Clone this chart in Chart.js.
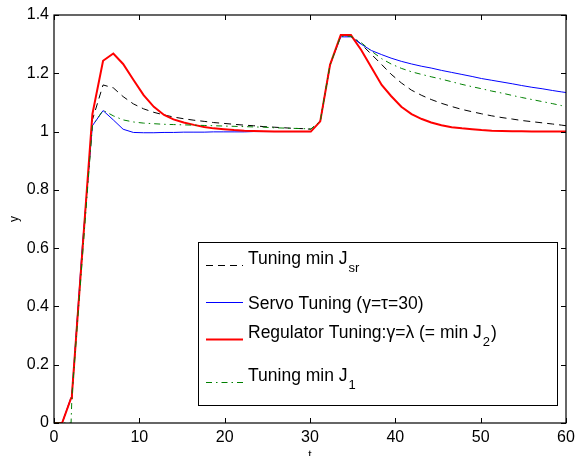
<!DOCTYPE html>
<html>
<head>
<meta charset="utf-8">
<script src="https://cdn.jsdelivr.net/npm/chart.js@4/dist/chart.umd.min.js"></script>
<style>
    html, body { margin: 0; padding: 0; background: #fff; }
    #wrap { width: 575px; height: 456px; }
</style>
</head>
<body>
<div id="wrap"><canvas id="chart" width="575" height="456"></canvas></div>
<script>
// Sample times (t) shared by all four responses
const timeSteps = [0, 0.95, 2.0, 2.1, 3.3, 4.5, 5.75, 6.95, 8.1, 9.3, 10.5, 11.7,
    12.9, 14.0, 15.2, 16.4, 17.6, 18.7, 19.9, 21.1, 22.3, 23.4, 24.6, 25.8,
    27.0, 28.1, 29.3, 30.1, 31.2, 32.35, 33.6, 34.8, 36.0, 37.2, 38.4, 39.5,
    40.7, 41.9, 43.1, 44.2, 45.4, 46.6, 47.8, 49.0, 50.1, 51.3, 52.5, 53.7,
    54.8, 56.0, 57.2, 58.4, 59.5, 60];

// Tuning min Jsr (black dashed)
const jsrValues = [0, 0, 0.085, 0.096, 0.58, 1.04, 1.16, 1.15, 1.12, 1.095, 1.078, 1.066,
    1.057, 1.05, 1.044, 1.039, 1.035, 1.031, 1.028, 1.025, 1.022, 1.02, 1.017, 1.015,
    1.013, 1.011, 1.01, 1.008, 1.035, 1.229, 1.329, 1.329, 1.3, 1.265, 1.23, 1.197,
    1.167, 1.142, 1.124, 1.11, 1.097, 1.086, 1.076, 1.068, 1.061, 1.054, 1.048, 1.043,
    1.038, 1.034, 1.03, 1.026, 1.022, 1.02];

// Servo tuning (blue)
const servoValues = [0, 0, 0.088, 0.1, 0.6, 1.02, 1.072, 1.04, 1.008, 0.997, 0.996, 0.996,
    0.997, 0.997, 0.998, 0.998, 0.998, 0.999, 0.999, 0.999, 0.999, 1.0, 1.0, 1.0,
    1.0, 1.0, 1.0, 1.0, 1.035, 1.229, 1.325, 1.325, 1.3, 1.278, 1.264, 1.252,
    1.241, 1.232, 1.224, 1.218, 1.21, 1.203, 1.196, 1.189, 1.182, 1.176, 1.17, 1.164,
    1.158, 1.152, 1.147, 1.141, 1.136, 1.134];

// Regulator tuning (red)
const regulatorValues = [0, 0, 0.085, 0.096, 0.58, 1.06, 1.243, 1.268, 1.232, 1.178, 1.125, 1.085,
    1.057, 1.042, 1.031, 1.023, 1.016, 1.011, 1.008, 1.005, 1.003, 1.002, 1.001, 1.0,
    1.0, 1.0, 1.0, 1.0, 1.035, 1.229, 1.331, 1.331, 1.28, 1.22, 1.16, 1.122,
    1.085, 1.06, 1.043, 1.031, 1.022, 1.015, 1.011, 1.008, 1.005, 1.003, 1.002, 1.001,
    1.001, 1.0, 1.0, 1.0, 1.0, 1.0];

// Tuning min J1 (green dash-dot)
const j1Values = [0, 0, 0, 0.09, 0.56, 1.02, 1.073, 1.054, 1.04, 1.033, 1.029, 1.027,
    1.025, 1.024, 1.023, 1.022, 1.021, 1.02, 1.019, 1.018, 1.017, 1.016, 1.015, 1.013,
    1.012, 1.011, 1.01, 1.009, 1.035, 1.229, 1.327, 1.327, 1.305, 1.276, 1.25, 1.232,
    1.217, 1.205, 1.196, 1.188, 1.18, 1.171, 1.162, 1.154, 1.147, 1.139, 1.132, 1.124,
    1.117, 1.11, 1.103, 1.096, 1.089, 1.086];

const xTicks = [0, 10, 20, 30, 40, 50, 60];
const yTicks = [0, 0.2, 0.4, 0.6, 0.8, 1, 1.2, 1.4];

const legendLabels = [
    { main: 'Tuning min J', sub: 'sr', tail: '' },
    { main: 'Servo Tuning (γ=τ=30)', sub: '', tail: '' },
    { main: 'Regulator Tuning:γ=λ (= min J', sub: '2', tail: ')' },
    { main: 'Tuning min J', sub: '1', tail: '' }
];

const FONT = '"Liberation Sans", Arial, sans-serif';

function toPoints(values) {
    return values.map((v, i) => ({ x: timeSteps[i], y: v }));
}

// Legend layout (MATLAB style box placed inside the axes)
const legendBox = { left: 198, top: 242, right: 557, bottom: 405 };
const legendRows = [
    { lineY: 265, textY: 264, color: '#000000', width: 1, dash: [7, 5] },
    { lineY: 302, textY: 309, color: '#0000ff', width: 1, dash: [] },
    { lineY: 339, textY: 338, color: '#ff0000', width: 2, dash: [] },
    { lineY: 382, textY: 381, color: '#008000', width: 1, dash: [6, 4, 1.5, 4] }
];

// Draws the box, inward ticks, axis names and the legend
const matlabAxes = {
    id: 'matlabAxes',
    afterDatasetsDraw(chart) {
        const ctx = chart.ctx;
        const area = chart.chartArea;
        const xs = chart.scales.x;
        const ys = chart.scales.y;
        ctx.save();
        ctx.strokeStyle = '#000';
        ctx.lineWidth = 1.2;
        ctx.setLineDash([]);
        ctx.strokeRect(area.left, area.top, area.right - area.left, area.bottom - area.top);

        ctx.lineWidth = 1;
        ctx.beginPath();
        xTicks.forEach(t => {
            const px = Math.round(xs.getPixelForValue(t)) + 0.5;
            ctx.moveTo(px, area.bottom); ctx.lineTo(px, area.bottom - 5);
            ctx.moveTo(px, area.top); ctx.lineTo(px, area.top + 5);
        });
        yTicks.forEach(v => {
            const py = Math.round(ys.getPixelForValue(v)) + 0.5;
            ctx.moveTo(area.left, py); ctx.lineTo(area.left + 5, py);
            ctx.moveTo(area.right, py); ctx.lineTo(area.right - 5, py);
        });
        ctx.stroke();

        // axis names
        ctx.fillStyle = '#000';
        ctx.font = '12px ' + FONT;
        ctx.textAlign = 'center';
        ctx.textBaseline = 'alphabetic';
        ctx.fillText('t', (area.left + area.right) / 2, 459);
        ctx.save();
        ctx.translate(18, 219);
        ctx.rotate(-Math.PI / 2);
        ctx.fillText('y', 0, 0);
        ctx.restore();

        // legend
        const b = legendBox;
        ctx.fillStyle = '#fff';
        ctx.fillRect(b.left, b.top, b.right - b.left, b.bottom - b.top);
        ctx.strokeStyle = '#000';
        ctx.lineWidth = 1;
        ctx.strokeRect(b.left + 0.5, b.top + 0.5, b.right - b.left, b.bottom - b.top);

        legendRows.forEach((row, i) => {
            ctx.strokeStyle = row.color;
            ctx.lineWidth = row.width;
            ctx.setLineDash(row.dash);
            ctx.beginPath();
            ctx.moveTo(206, row.lineY + 0.5);
            ctx.lineTo(243, row.lineY + 0.5);
            ctx.stroke();
            ctx.setLineDash([]);

            const label = legendLabels[i];
            let x = 248;
            ctx.fillStyle = '#000';
            ctx.textAlign = 'left';
            ctx.font = '17.5px ' + FONT;
            ctx.fillText(label.main, x, row.textY);
            x += ctx.measureText(label.main).width + 1;
            if (label.sub) {
                ctx.font = '13px ' + FONT;
                ctx.fillText(label.sub, x, row.textY + 8);
                x += ctx.measureText(label.sub).width + 1;
            }
            if (label.tail) {
                ctx.font = '17.5px ' + FONT;
                ctx.fillText(label.tail, x, row.textY);
            }
        });
        ctx.restore();
    }
};

const ctx = document.getElementById('chart').getContext('2d');
const chart = new Chart(ctx, {
    type: 'line',
    data: {
        datasets: [
            {
                label: 'Tuning min Jsr',
                data: toPoints(jsrValues),
                borderColor: '#000000',
                borderWidth: 1,
                borderDash: [7, 5],
                order: 4
            },
            {
                label: 'Servo Tuning',
                data: toPoints(servoValues),
                borderColor: '#0000ff',
                borderWidth: 1,
                order: 3
            },
            {
                label: 'Regulator Tuning',
                data: toPoints(regulatorValues),
                borderColor: '#ff0000',
                borderWidth: 2,
                order: 2
            },
            {
                label: 'Tuning min J1',
                data: toPoints(j1Values),
                borderColor: '#008000',
                borderWidth: 1,
                borderDash: [6, 4, 1.5, 4],
                order: 1
            }
        ]
    },
    options: {
        responsive: false,
        animation: false,
        devicePixelRatio: 1,
        layout: { padding: { top: 15, right: 9, left: 0, bottom: 0 } },
        elements: {
            point: { radius: 0 },
            line: { tension: 0, fill: false }
        },
        plugins: {
            legend: { display: false },
            tooltip: { enabled: false }
        },
        scales: {
            x: {
                type: 'linear',
                min: 0,
                max: 60,
                afterBuildTicks: scale => { scale.ticks = xTicks.map(v => ({ value: v })); },
                afterFit: scale => {
                    scale.height = 33;
                    scale.paddingLeft = 0;
                    scale.paddingRight = 0;
                },
                grid: { display: false, drawTicks: false },
                border: { display: false },
                ticks: {
                    color: '#000',
                    padding: 5,
                    maxRotation: 0,
                    font: { family: FONT, size: 16 },
                    callback: v => String(v)
                }
            },
            y: {
                min: 0,
                max: 1.4,
                afterBuildTicks: scale => { scale.ticks = yTicks.map(v => ({ value: v })); },
                afterFit: scale => {
                    scale.width = 54;
                    scale.paddingTop = 0;
                    scale.paddingBottom = 0;
                },
                grid: { display: false, drawTicks: false },
                border: { display: false },
                ticks: {
                    color: '#000',
                    padding: 5,
                    font: { family: FONT, size: 16 },
                    callback: v => String(+v.toFixed(1))
                }
            }
        }
    },
    plugins: [matlabAxes]
});
</script>
</body>
</html>
